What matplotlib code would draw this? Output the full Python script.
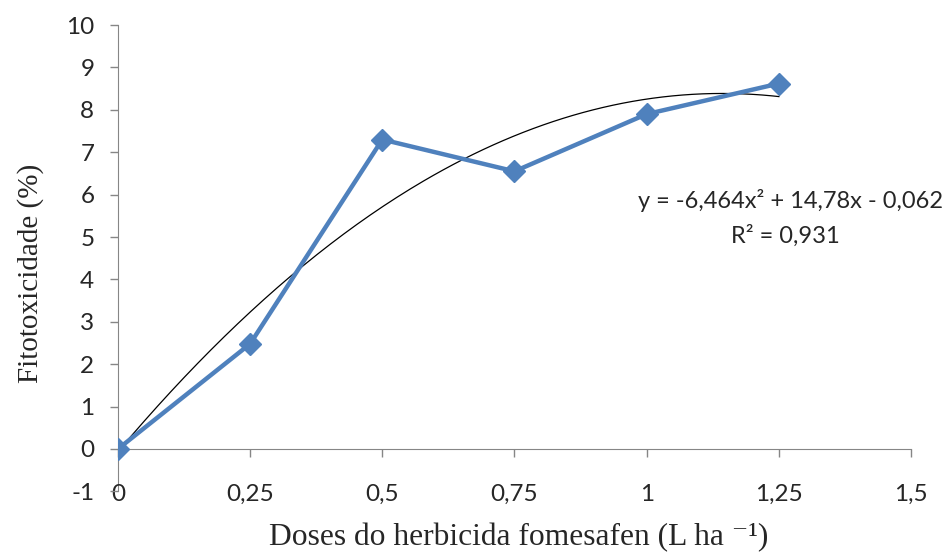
import numpy as np
import matplotlib.pyplot as plt

plt.rcParams['axes.unicode_minus'] = False

doses = [0, 0.25, 0.5, 0.75, 1.0, 1.25]
fito = [0.0, 2.48, 7.3, 6.55, 7.9, 8.62]
trend_coef = [-6.464, 14.78, -0.062]
xticks = [0, 0.25, 0.5, 0.75, 1, 1.25, 1.5]
xtick_labels = ['0', '0,25', '0,5', '0,75', '1', '1,25', '1,5']
yticks = list(range(-1, 11))

gray = '#868686'
txt = '#262626'

fig = plt.figure(figsize=(9.51, 5.57), dpi=100)
ax = fig.add_axes([0.124, 0.1178, 0.834, 0.8372])

xs = np.linspace(0, 1.25, 200)
ax.plot(xs, np.polyval(trend_coef, xs), color='black', lw=0.9, zorder=2)
ax.plot(doses, fito, color='#4F81BD', lw=3.2, marker='D', markersize=11, zorder=3)

ax.set_xlim(0, 1.5)
ax.set_ylim(-1, 10)
ax.spines['top'].set_visible(False)
ax.spines['right'].set_visible(False)
ax.spines['bottom'].set_position(('data', 0))
ax.spines['left'].set_color(gray)
ax.spines['bottom'].set_color(gray)
ax.spines['left'].set_zorder(1)

ax.set_xticks(xticks)
ax.set_xticklabels(xtick_labels)
ax.set_yticks(yticks)
ax.tick_params(axis='both', colors=gray, labelcolor=txt, length=6, width=1,
               labelsize=17.5)
ax.tick_params(axis='x', pad=19)
ax.tick_params(axis='y', pad=11)
for lab in ax.get_xticklabels() + ax.get_yticklabels():
    lab.set_family('Lato')

ax.text(1.272, 5.87, 'y = -6,464x\u00b2 + 14,78x - 0,062', ha='center', va='center',
        fontsize=17, family='Lato', color=txt)
ax.text(1.262, 5.02, 'R\u00b2 = 0,931', ha='center', va='center',
        fontsize=17, family='Lato', color=txt)

fig.text(0.545, 0.035, 'Doses do herbicida fomesafen (L ha \u207b\u00b9)', ha='center',
         va='center', fontsize=22.7, family=['Liberation Serif', 'DejaVu Serif'],
         color=txt)
fig.text(0.032, 0.51, 'Fitotoxicidade (%)', ha='center', va='center', rotation=90,
         fontsize=21, family='Liberation Serif', color=txt)

fig.savefig('out.png', dpi=100)
